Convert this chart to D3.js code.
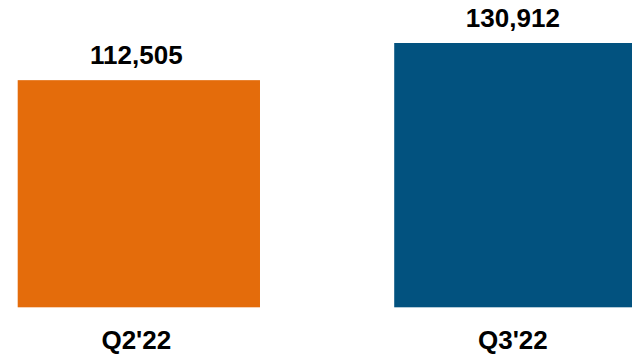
<!DOCTYPE html>
<html>
<head>
<meta charset="utf-8">
<script src="https://cdn.jsdelivr.net/npm/d3@7"></script>
<style>
  html, body { margin: 0; padding: 0; background: #fff; }
  svg { display: block; }
  text { font-family: "Liberation Sans", Arial, sans-serif; font-weight: bold; fill: #000; }
</style>
</head>
<body>
<svg id="chart" width="632" height="355"></svg>
<script>
// Quarterly totals
const categories = ["Q2'22", "Q3'22"];
const values = [112505, 130912];
const barColors = ["#E46C0B", "#02527F"];

const width = 632, height = 355;
const baseY = 307.3, topY = 43;

const svg = d3.select("#chart");

const x = d3.scaleBand()
  .domain(categories)
  .range([17.7, 636.5])
  .paddingInner(0.3565)
  .paddingOuter(0);

const y = d3.scaleLinear()
  .domain([0, d3.max(values)])
  .range([baseY, topY]);

const data = categories.map((c, i) => ({ cat: c, value: values[i], color: barColors[i] }));

svg.selectAll("rect.bar")
  .data(data)
  .join("rect")
  .attr("class", "bar")
  .attr("x", d => x(d.cat))
  .attr("y", d => y(d.value))
  .attr("width", x.bandwidth())
  .attr("height", d => baseY - y(d.value))
  .attr("fill", d => d.color);

const fmt = d3.format(",");
const labelShift = -2.5;

// value labels above bars
svg.selectAll("text.value")
  .data(data)
  .join("text")
  .attr("class", "value")
  .attr("x", d => x(d.cat) + x.bandwidth() / 2 + labelShift)
  .attr("y", d => y(d.value) - 16)
  .attr("text-anchor", "middle")
  .attr("font-size", 26)
  .text(d => fmt(d.value));

// category labels below the baseline
svg.selectAll("text.cat")
  .data(data)
  .join("text")
  .attr("class", "cat")
  .attr("x", d => x(d.cat) + x.bandwidth() / 2 + labelShift)
  .attr("y", 349.3)
  .attr("text-anchor", "middle")
  .attr("font-size", 26)
  .text(d => d.cat);
</script>
</body>
</html>
